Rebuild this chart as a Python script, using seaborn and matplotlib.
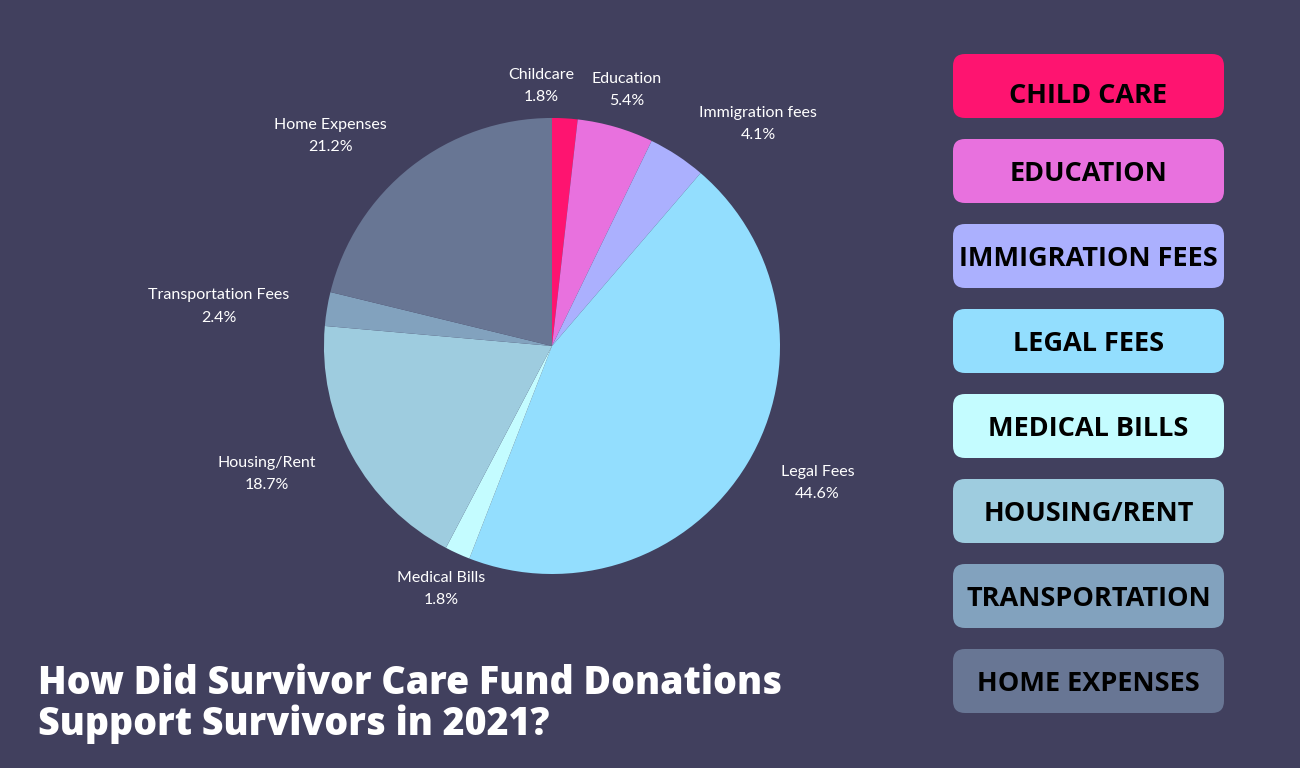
import numpy as np
import matplotlib.pyplot as plt
import seaborn as sns
from matplotlib.patches import FancyBboxPatch

sns.set_theme(style="white")
plt.rcParams["font.family"] = ["Lato", "DejaVu Sans"]

# data
categories = ["Childcare", "Education", "Immigration fees", "Legal Fees",
              "Medical Bills", "Housing/Rent", "Transportation Fees", "Home Expenses"]
shares = [1.8, 5.4, 4.1, 44.6, 1.8, 18.7, 2.4, 21.2]
legend_labels = ["CHILD CARE", "EDUCATION", "IMMIGRATION FEES", "LEGAL FEES",
                 "MEDICAL BILLS", "HOUSING/RENT", "TRANSPORTATION", "HOME EXPENSES"]
colors = ["#FE1470", "#E871DE", "#ABB0FE", "#93DEFE",
          "#C4FCFF", "#9ECCDF", "#82A2BE", "#687694"]

# label placement: distance from centre (pie radius = 1) and angle nudge in degrees
label_radius = [1.14, 1.17, 1.33, 1.31, 1.17, 1.37, 1.47, 1.34]
label_nudge = [5.6, 0, -9.6, 3.7, 0, -4.4, 2.6, 8.4]

bg = "#41405E"

fig = plt.figure(figsize=(13, 7.68), dpi=100)
fig.patch.set_facecolor(bg)

# pie
ax = fig.add_axes([0.2492, 0.2526, 0.3508, 0.5938])
ax.set_facecolor(bg)
wedges, _ = ax.pie(shares, colors=sns.color_palette(colors), startangle=90,
                   counterclock=False, radius=1,
                   wedgeprops=dict(linewidth=0))
ax.set_xlim(-1, 1)
ax.set_ylim(-1, 1)
ax.set_aspect("equal")
ax.axis("off")

cum = np.cumsum(shares) - np.array(shares) / 2
for name, val, mid, r, nd in zip(categories, shares, cum, label_radius, label_nudge):
    theta = np.deg2rad(90 - 360 * mid / sum(shares) + nd)
    ax.text(r * np.cos(theta), r * np.sin(theta), f"{name}\n{val}%",
            ha="center", va="center", color="white", fontsize=11.5,
            linespacing=1.75, clip_on=False)

# legend boxes on the right (pixel space)
lax = fig.add_axes([0, 0, 1, 1])
lax.set_xlim(0, 1300)
lax.set_ylim(768, 0)
lax.axis("off")
lax.patch.set_alpha(0)
for i, (lab, c) in enumerate(zip(legend_labels, colors)):
    top = 54 + i * 85
    box = FancyBboxPatch((953, top), 271, 64,
                         boxstyle="round,pad=0,rounding_size=12",
                         facecolor=c, edgecolor="none")
    lax.add_patch(box)
    drop = 7 if i == 0 else 0   # first label sits a bit low in its box
    lax.text(953 + 135.5, top + 42 + drop, lab, ha="center", va="baseline",
             fontsize=19.5, fontweight="bold", color="black",
             family=["Open Sans", "DejaVu Sans"])

# title
fig.text(0.029, 0.083, "How Did Survivor Care Fund Donations\nSupport Survivors in 2021?",
         ha="left", va="center", color="white", fontsize=27, fontweight="heavy",
         family=["Open Sans", "DejaVu Sans"], linespacing=1.05)

fig.savefig("out.png", dpi=100, facecolor=bg)
